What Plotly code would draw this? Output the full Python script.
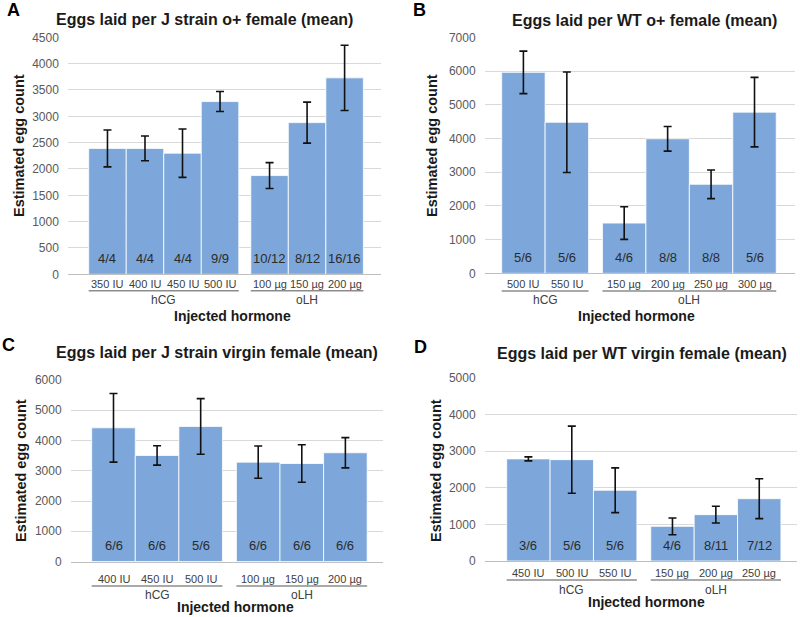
import plotly.graph_objects as go

# ---------------- data ----------------
groups = ["hCG", "oLH"]

doses_A = [["350 IU", "400 IU", "450 IU", "500 IU"], ["100 µg", "150 µg", "200 µg"]]
means_A = [2390, 2390, 2300, 3280, 1875, 2880, 3730]
err_A = [350, 235, 460, 190, 245, 390, 620]
n_A = ["4/4", "4/4", "4/4", "9/9", "10/12", "8/12", "16/16"]

doses_B = [["500 IU", "550 IU"], ["150 µg", "200 µg", "250 µg", "300 µg"]]
means_B = [5960, 4480, 1490, 3990, 2640, 4780]
err_B = [630, 1490, 485, 365, 425, 1030]
n_B = ["5/6", "5/6", "4/6", "8/8", "8/8", "5/6"]

doses_C = [["400 IU", "450 IU", "500 IU"], ["100 µg", "150 µg", "200 µg"]]
means_C = [4420, 3505, 4465, 3285, 3240, 3595]
err_C = [1135, 320, 920, 535, 620, 500]
n_C = ["6/6", "6/6", "5/6", "6/6", "6/6", "6/6"]

doses_D = [["450 IU", "500 IU", "550 IU"], ["150 µg", "200 µg", "250 µg"]]
means_D = [2785, 2765, 1930, 945, 1265, 1700]
err_D = [55, 915, 610, 228, 228, 545]
n_D = ["3/6", "5/6", "5/6", "4/6", "8/11", "7/12"]

titles = ["Eggs laid per J strain o+ female (mean)",
          "Eggs laid per WT o+ female (mean)",
          "Eggs laid per J strain virgin female (mean)",
          "Eggs laid per WT virgin female (mean)"]
letters = ["A", "B", "C", "D"]
y_max = [4500, 7000, 6000, 5000]
y_step = [500, 1000, 1000, 1000]

# ---------------- layout config (pixels, screen coordinates) ----------------
W, H = 800, 617
OFF = 0          # page body margin is removed below
GAP = 0.32
BAR = "#7DA7DA"
FONT = "Liberation Sans, Arial, sans-serif"

panels = [
    dict(doses=doses_A, means=means_A, err=err_A, n=n_A,
         px=(68.3, 381), py=(37.3, 274.3), xr=(-1.044, 7.29),
         title=(205, 19.5), letter=(13, 10), ytitle=(19, 146), xtitle=(232.5, 316),
         dose_y=283.7, line_y=290.7, grp_y=300),
    dict(doses=doses_B, means=means_B, err=err_B, n=n_B,
         px=(485, 795), py=(37.3, 273.3), xr=(-0.884, 6.252),
         title=(644, 20), letter=(419, 10), ytitle=(432, 146), xtitle=(636, 316),
         dose_y=283.5, line_y=291, grp_y=300),
    dict(doses=doses_C, means=means_C, err=err_C, n=n_C,
         px=(71, 383.3), py=(380, 561.5), xr=(-0.975, 6.19),
         title=(216.7, 352.5), letter=(8, 345), ytitle=(21, 471), xtitle=(235, 606.7),
         dose_y=579, line_y=586, grp_y=595),
    dict(doses=doses_D, means=means_D, err=err_D, n=n_D,
         px=(485, 797), py=(377.7, 561), xr=(-1.0, 6.19),
         title=(641.7, 354), letter=(420, 347), ytitle=(436, 471), xtitle=(646, 601.7),
         dose_y=573.3, line_y=580, grp_y=590),
]


def fx(p):
    return (p - OFF) / W


def fy(p):
    return 1 - (p - OFF) / H


fig = go.Figure()
annotations = []
shapes = []
layout = {}

for k, P in enumerate(panels):
    sfx = "" if k == 0 else str(k + 1)
    xa, ya = "x" + sfx, "y" + sfx
    # positions derived from group structure
    pos, grp_pos = [], []
    i = 0
    for g, ds in enumerate(P["doses"]):
        gp = []
        for _ in ds:
            gp.append(i + GAP * g)
            i += 1
        pos += gp
        grp_pos.append(gp)
    labels = [d for ds in P["doses"] for d in ds]

    fig.add_trace(go.Bar(
        x=pos, y=P["means"], width=1, xaxis=xa, yaxis=ya,
        marker=dict(color=BAR, line=dict(color="white", width=0.8)),
        error_y=dict(type="data", array=P["err"], visible=True,
                     color="#111111", thickness=1.6, width=4),
        showlegend=False, hoverinfo="skip"))

    layout["xaxis" + sfx] = dict(
        domain=[fx(P["px"][0]), fx(P["px"][1])], range=list(P["xr"]),
        anchor=ya, showgrid=False, zeroline=False, showticklabels=False,
        showline=True, linecolor="#bfbfbf", linewidth=1, ticks="",
        automargin=False, fixedrange=True)
    layout["yaxis" + sfx] = dict(
        domain=[fy(P["py"][1]), fy(P["py"][0])], range=[0, y_max[k]],
        dtick=y_step[k], tick0=0, anchor=xa, showgrid=True, gridcolor="#d9d9d9",
        gridwidth=1, zeroline=False, showline=False, ticks="outside", ticklen=6,
        tickcolor="rgba(0,0,0,0)", tickfont=dict(size=12, color="#595959", family=FONT),
        automargin=False, fixedrange=True)

    # in-bar n labels
    for x, t in zip(pos, P["n"]):
        annotations.append(dict(x=x, y=0, xref=xa, yref=ya, text=t, showarrow=False,
                                xanchor="center", yshift=16,
                                font=dict(size=13, color="#2b2b2b", family=FONT)))
    # dose labels
    for x, t in zip(pos, labels):
        annotations.append(dict(x=x, y=fy(P["dose_y"]), xref=xa, yref="paper", text=t,
                                showarrow=False, xanchor="center", yanchor="middle",
                                font=dict(size=11, color="#404040", family=FONT)))
    # group underlines and labels
    for g, gp in enumerate(grp_pos):
        shapes.append(dict(type="line", xref=xa, yref="paper",
                           x0=gp[0] - 0.5, x1=gp[-1] + 0.5,
                           y0=fy(P["line_y"]), y1=fy(P["line_y"]),
                           line=dict(color="#8c8c8c", width=1.5)))
        annotations.append(dict(x=sum(gp) / len(gp), y=fy(P["grp_y"]), xref=xa, yref="paper",
                                text=groups[g], showarrow=False, xanchor="center",
                                yanchor="middle",
                                font=dict(size=12, color="#404040", family=FONT)))
    # titles / letters / axis titles
    common = dict(xref="paper", yref="paper", showarrow=False, xanchor="center", yanchor="middle")
    annotations.append(dict(x=fx(P["title"][0]), y=fy(P["title"][1]),
                            text="<b>%s</b>" % titles[k],
                            font=dict(size=16, color="#1a1a1a", family=FONT), **common))
    annotations.append(dict(x=fx(P["letter"][0]), y=fy(P["letter"][1]),
                            text="<b>%s</b>" % letters[k],
                            font=dict(size=18, color="#000000", family=FONT), **common))
    annotations.append(dict(x=fx(P["ytitle"][0]), y=fy(P["ytitle"][1]),
                            text="<b>Estimated egg count</b>", textangle=-90,
                            font=dict(size=14.5, color="#1a1a1a", family=FONT), **common))
    annotations.append(dict(x=fx(P["xtitle"][0]), y=fy(P["xtitle"][1]),
                            text="<b>Injected hormone</b>",
                            font=dict(size=14, color="#1a1a1a", family=FONT), **common))

fig.update_layout(
    width=W, height=H, margin=dict(l=0, r=0, t=0, b=0, autoexpand=False),
    paper_bgcolor="white", plot_bgcolor="white", bargap=0,
    annotations=annotations, shapes=shapes, font=dict(family=FONT), **layout)

fig.write_html("out.html",
               config={"displayModeBar": False, "staticPlot": True},
               post_script="document.body.style.margin='0px';document.body.style.overflow='hidden';")
